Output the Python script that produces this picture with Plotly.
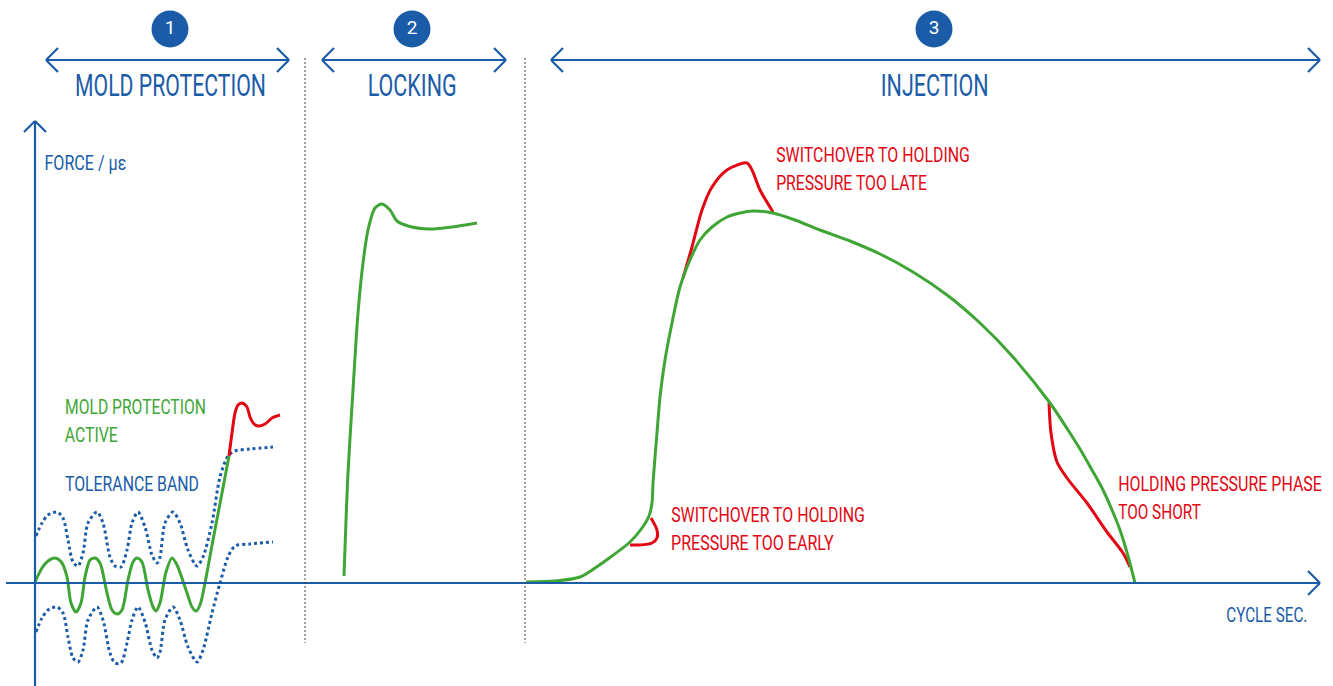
import json
import plotly.graph_objects as go

# Readings: x = cycle position, y = vertical plot position of the force signal
wave_x = [35,42,48,55,62,67,71,76,81,85,90,95,100,107,112,117,122,128,133,137,142,148,153,156,160,166,172,177,187,192,196,200,205,213,222,229]
wave_y = [582,568,561,558,563,577,603,612,603,577,560,558,563,593,610,614,610,580,562,558,562,590,607,611,603,572,558,565,593,607,611,605,583,540,493,456]
band_x = [36,42,48,57,63,68,73,78,83,88,97,103,110,115,121,127,132,138,145,152,157,160,165,173,180,188,197,203,212,220,228,235,250,273]
band_hi = [536,523,515,512,518,540,562,566,553,523,512,523,557,566,567,550,523,512,527,555,563,557,523,512,523,550,566,557,523,477,456,451,449,447]
band_lo = [632,618,610,607,613,637,658,662,650,620,607,620,653,663,663,643,620,607,622,650,658,652,620,607,620,647,662,650,613,583,557,546,544,542]
over_x = [229,232,235,238,242,247,250,254,258,265,272,280]
over_y = [456,433,413,405,403,407,417,424,426,424,418,415]
lock_x = [344,348,353,358,363,368,375,382,390,397,408,430,452,477]
lock_y = [576,473,390,313,263,230,208,204,210,221,226,229,227,223]
inj_x = [526,555,580,595,612,630,642,649,652,653,657,660,665,672,680,690,700,712,727,740,753,773,795,820,850,880,913,947,980,1013,1050,1068,1080,1092,1103,1112,1120,1128,1135]
inj_y = [582,581,577,568,556,542,528,516,503,483,433,397,360,323,287,260,240,227,217,213,211,213,220,230,241,254,272,295,323,357,403,430,449,470,490,510,530,556,583]
late_x = [683,692,702,712,727,747,752,760,773]
late_y = [278,247,210,187,170,163,170,190,212]
early_x = [651,657,657,652,640,630]
early_y = [518,530,538,543,545,545]
short_x = [1049,1051,1057,1067,1087,1107,1123,1130]
short_y = [403,433,462,478,503,532,553,567]

section_labels = ["MOLD PROTECTION", "LOCKING", "INJECTION"]
section_numbers = ["1", "2", "3"]
section_centers = [170, 412, 934]
section_spans = [(46, 289), (322, 506), (551, 1320)]
section_widths = [191, 89, 108]
dividers = [305, 525]

BLUE = "#1a5ca8"; GREEN = "#3fa535"; RED = "#e30613"; GRAY = "#444444"
FONT = "Roboto"

fig = go.Figure()
text_widths = []

def curve(x, y, color, width=3, dash=None):
    fig.add_trace(go.Scatter(x=x, y=y, mode="lines", hoverinfo="skip", showlegend=False,
                             line=dict(color=color, width=width, dash=dash, shape="spline", smoothing=0.8)))

curve(band_x, band_hi, BLUE, 3, "3px,3px")
curve(band_x, band_lo, BLUE, 3, "3px,3px")
curve(over_x, over_y, RED)
curve(late_x, late_y, RED)
curve(early_x, early_y, RED)
curve(short_x, short_y, RED)
curve(wave_x, wave_y, GREEN)
curve(lock_x, lock_y, GREEN)
curve(inj_x, inj_y, GREEN)

def seg(x0, y0, x1, y1, color=BLUE, width=2.2, dash=None):
    fig.add_shape(type="line", x0=x0, y0=y0, x1=x1, y1=y1, xref="x", yref="y",
                  line=dict(color=color, width=width, dash=dash))

def hhead(x, y, d, s=12):
    seg(x, y, x + d * s, y - s); seg(x, y, x + d * s, y + s)

# axes
seg(35, 686, 35, 121); seg(35, 121, 24, 132); seg(35, 121, 46, 132)
seg(6, 583, 1320, 583); hhead(1320, 583, -1)

for xd in dividers:
    seg(xd, 58, xd, 643, GRAY, 1, "2px,2px")

for (a, b) in section_spans:
    seg(a, 60, b, 60); hhead(a, 60, 1); hhead(b, 60, -1)

def label(left, width, y, text, color, size=21):
    # centred on the measured span, then condensed to that span in the page script
    text_widths.append(width)
    fig.add_annotation(x=left + width / 2, y=y, text=text, showarrow=False, xanchor="center",
                       xref="x", yref="y", font=dict(family=FONT, size=size, color=color))

for c, lab, w in zip(section_centers, section_labels, section_widths):
    label(c - w / 2, w, 85, lab, BLUE, 31)

fig.add_trace(go.Scatter(x=section_centers, y=[29] * 3, mode="markers+text", text=section_numbers,
                         textposition="middle center", hoverinfo="skip", showlegend=False,
                         marker=dict(size=37, color=BLUE, line=dict(width=0)),
                         textfont=dict(family=FONT, size=19, color="white")))

label(44, 82, 163, "FORCE / µε", BLUE)
label(65, 141, 407, "MOLD PROTECTION", GREEN)
label(65, 53, 435, "ACTIVE", GREEN)
label(65, 134, 484, "TOLERANCE BAND", BLUE)
label(776, 194, 155, "SWITCHOVER TO HOLDING", RED)
label(776, 151, 183, "PRESSURE TOO LATE", RED)
label(671, 194, 515, "SWITCHOVER TO HOLDING", RED)
label(671, 163, 543, "PRESSURE TOO EARLY", RED)
label(1118, 204, 484, "HOLDING PRESSURE PHASE", RED)
label(1118, 83, 512, "TOO SHORT", RED)
label(1226, 81, 615, "CYCLE SEC.", BLUE)

fig.update_layout(width=1333, height=686, margin=dict(l=0, r=0, t=0, b=0),
                  paper_bgcolor="white", plot_bgcolor="white", showlegend=False,
                  xaxis=dict(range=[0, 1333], visible=False, fixedrange=True),
                  yaxis=dict(range=[686, 0], visible=False, fixedrange=True))

post = """
document.body.style.margin='0';document.body.style.overflow='hidden';
var widths=%s;
document.querySelectorAll('.annotation-text').forEach(function(el,i){
  var b=el.getBBox(), cx=b.x+b.width/2, k=widths[i]/b.width;
  el.setAttribute('transform','translate('+cx+',0) scale('+k+',1) translate('+(-cx)+',0)');
});
""" % json.dumps(text_widths)

fig.write_html("out.html", config=dict(displayModeBar=False), post_script=post)
